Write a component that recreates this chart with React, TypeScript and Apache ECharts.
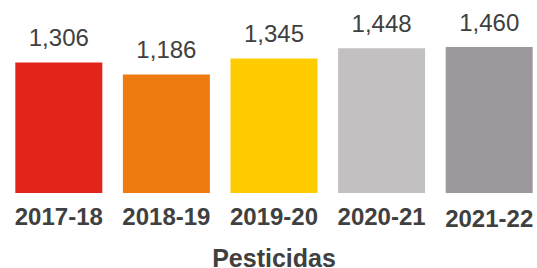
import React, { useEffect, useRef } from "react";
import * as echarts from "echarts";

const categories = ["2017-18", "2018-19", "2019-20", "2020-21", "2021-22"];
const values = [1306, 1186, 1345, 1448, 1460];
const colors = ["#E3241B", "#EE7B10", "#FFCC00", "#C2C0C1", "#9B999C"];
const axisTitle = "Pesticidas";

const FONT = "'Liberation Sans', Arial, sans-serif";

export default function App() {
  const ref = useRef<HTMLDivElement>(null);
  useEffect(() => {
    if (!ref.current) return;
    const chart = echarts.init(ref.current, undefined, { renderer: "svg" });
    chart.setOption({
      animation: false,
      grid: { left: 5, right: -6, top: 0, bottom: 75, containLabel: false, outerBoundsMode: "none" },
      xAxis: {
        type: "category",
        data: categories.map((c, i) =>
          i === categories.length - 1
            ? { value: c, textStyle: { padding: [2, 0, 0, 0] } }
            : c
        ),
        axisLine: { show: false },
        axisTick: { show: false },
        axisLabel: {
          interval: 0,
          hideOverlap: false,
          color: "#404040",
          fontFamily: FONT,
          fontWeight: "bold",
          fontSize: 24,
          margin: 11,
        },
        name: axisTitle,
        nameLocation: "middle",
        nameGap: 55,
        nameTextStyle: {
          color: "#404040",
          fontFamily: FONT,
          fontWeight: "bold",
          fontSize: 25,
          lineHeight: 20,
        },
      },
      yAxis: {
        type: "value",
        min: 0,
        max: 1930,
        show: false,
        splitLine: { show: false },
      },
      series: [
        {
          type: "bar",
          barWidth: 87,
          data: values.map((v, i) => ({ value: v, itemStyle: { color: colors[i] } })),
          label: {
            show: true,
            position: "top",
            distance: 13,
            color: "#404040",
            fontFamily: FONT,
            fontSize: 24,
            formatter: (p: any) => Number(p.value).toLocaleString("en-US"),
          },
        },
      ],
    });
    return () => chart.dispose();
  }, []);
  return (
    <div
      ref={ref}
      style={{ position: "absolute", left: 0, top: 0, width: 537, height: 268 }}
    />
  );
}
